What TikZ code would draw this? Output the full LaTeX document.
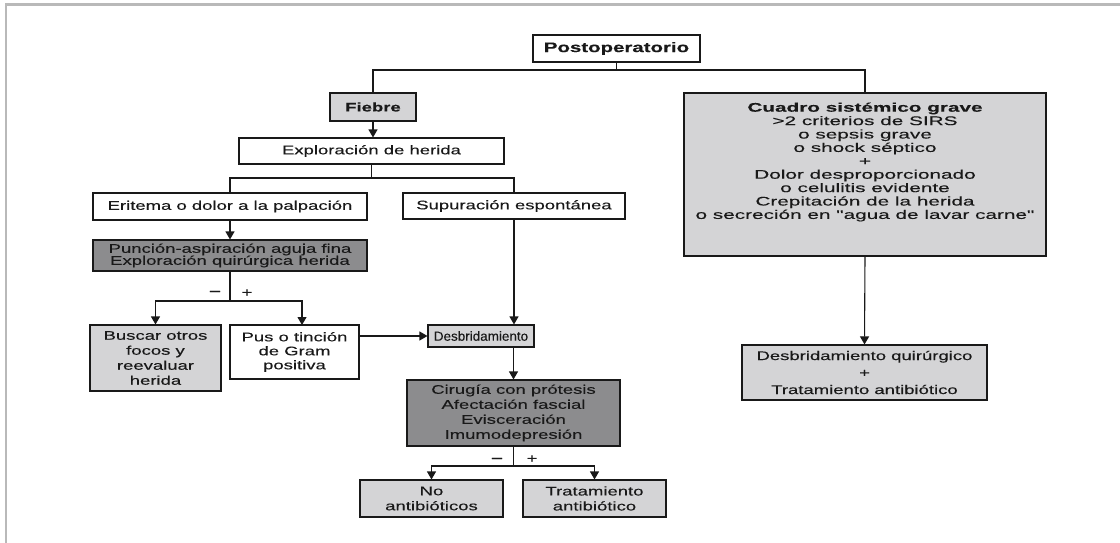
\documentclass[tikz,border=0pt]{standalone}
\usepackage{fontspec}
\setmainfont[FakeStretch=1.48,FakeBold=0.2]{Liberation Sans}
\newfontfamily\desbfont[FakeStretch=1.02,FakeBold=0.2]{Liberation Sans}
\newfontfamily\widefont[FakeStretch=1.66,FakeBold=0.2]{Liberation Sans}
\usetikzlibrary{arrows.meta,calc}
\definecolor{lgray}{RGB}{212,212,214}
\definecolor{dgray}{RGB}{140,140,142}
\definecolor{ink}{RGB}{25,25,25}
\definecolor{framecol}{RGB}{185,185,185}
\tikzset{
  box/.style={draw=ink, line width=1.1pt, align=center, inner sep=0pt, text=ink,
    font=\fontsize{12.5}{15}\selectfont},
  lightbox/.style={box, fill=lgray},
  darkbox/.style={box, fill=dgray},
  whitebox/.style={box, fill=white},
  conn/.style={draw=ink, line width=1.1pt},
  arr/.style={conn, -{Triangle[width=9pt,length=8pt]}},
  sign/.style={text=ink, font=\fontsize{12.5}{15}\selectfont, inner sep=0pt},
}
\begin{document}
\begin{tikzpicture}[x=1pt,y=-1pt]
\useasboundingbox (0,0) rectangle (1120,543);
% frame
\draw[framecol, line width=2.5pt] (6,543) -- (6,4.5) -- (1120,4.5);

% nodes
\node[whitebox, minimum width=167, minimum height=27, font=\fontsize{13.8}{15}\selectfont] (post) at (616.5,48.5) {\bfseries Postoperatorio};
\node[lightbox, minimum width=86, minimum height=28] (fiebre) at (373,107) {\bfseries Fiebre};
\node[whitebox, minimum width=265, minimum height=26] (expl) at (371.5,151) {Exploración de herida};
\node[whitebox, minimum width=274, minimum height=27] (erit) at (230,206.5) {Eritema o dolor a la palpación};
\node[whitebox, minimum width=222, minimum height=26] (sup) at (514,206) {Supuración espontánea};
\node[darkbox, minimum width=274, minimum height=31, font=\fontsize{12.5}{12}\selectfont] (punc) at (230,255.5)
  {Punción-aspiración aguja fina\\Exploración quirúrgica herida};
\node[lightbox, minimum width=131, minimum height=66] (busc) at (155.5,358)
  {Buscar otros\\focos y\\reevaluar\\herida};
\node[whitebox, minimum width=129, minimum height=54, font=\fontsize{12.5}{14}\selectfont] (pus) at (294.5,352)
  {Pus o tinción\\de Gram\\positiva};
\node[lightbox, minimum width=106, minimum height=22, font=\desbfont\fontsize{13.2}{15}\selectfont] (desb) at (481,336) {Desbridamiento};
\node[darkbox, minimum width=213, minimum height=66] (cir) at (513.5,413)
  {Cirugía con prótesis\\Afectación fascial\\Evisceración\\Imumodepresión};
\node[lightbox, minimum width=143, minimum height=37] (noab) at (431.5,498.5) {No\\antibióticos};
\node[lightbox, minimum width=143, minimum height=37] (trat) at (594.5,498.5) {Tratamiento\\antibiótico};
\node[lightbox, minimum width=362, minimum height=163] (cuadro) at (865,174.5) {};
\node[align=center, inner sep=0pt, text=ink, font=\widefont\fontsize{12.5}{13.4}\selectfont] (cuadrotxt) at (865,162)
  {\textbf{Cuadro sistémico grave}\\>2 criterios de SIRS\\o sepsis grave\\o shock séptico\\+\\Dolor desproporcionado\\o celulitis evidente\\Crepitación de la herida\\o secreción en "agua de lavar carne"};
\node[lightbox, minimum width=245, minimum height=55, font=\fontsize{12.5}{17}\selectfont] (dq) at (864.5,372.5)
  {Desbridamiento quirúrgico\\+\\Tratamiento antibiótico};

% signs
\node[sign, font=\fontsize{14}{15}\selectfont\bfseries] (m1) at (215,293) {–};
\node[sign] (p1) at (247,293) {+};
\node[sign, font=\fontsize{14}{15}\selectfont\bfseries] (m2) at (497,460) {–};
\node[sign] (p2) at (532,459) {+};

% junction coordinates
\coordinate (bar1) at (616.5,70);
\coordinate (bar2) at (371.5,178);
\coordinate (bar3) at (230,301);
\coordinate (bar4) at (513.5,466);
\coordinate (pusin) at (302,325);

% connectors
\draw[conn] (post.south) -- (bar1);
\draw[conn] (fiebre.north) |- (bar1) -| (cuadro.north);
\draw[arr] (fiebre.south) -- (fiebre.south |- expl.north);
\draw[conn] (expl.south) -- (bar2);
\draw[conn] (erit.north) |- (bar2) -| (sup.north);
\draw[arr] (erit.south) -- (punc.north);
\draw[conn] (punc.south) -- (bar3);
\draw[arr] (bar3) -| (busc.north);
\draw[arr] (bar3) -| (pusin);
\draw[arr] (pus.east |- desb.west) -- (desb.west);
\draw[arr] (sup.south) -- (sup.south |- desb.north);
\draw[arr] (cir.north |- desb.south) -- (cir.north);
\draw[conn] (cir.south) -- (bar4);
\draw[arr] (bar4) -| (noab.north);
\draw[arr] (bar4) -| (trat.north);
\draw[arr] (cuadro.south) -- (dq.north);
\end{tikzpicture}
\end{document}
